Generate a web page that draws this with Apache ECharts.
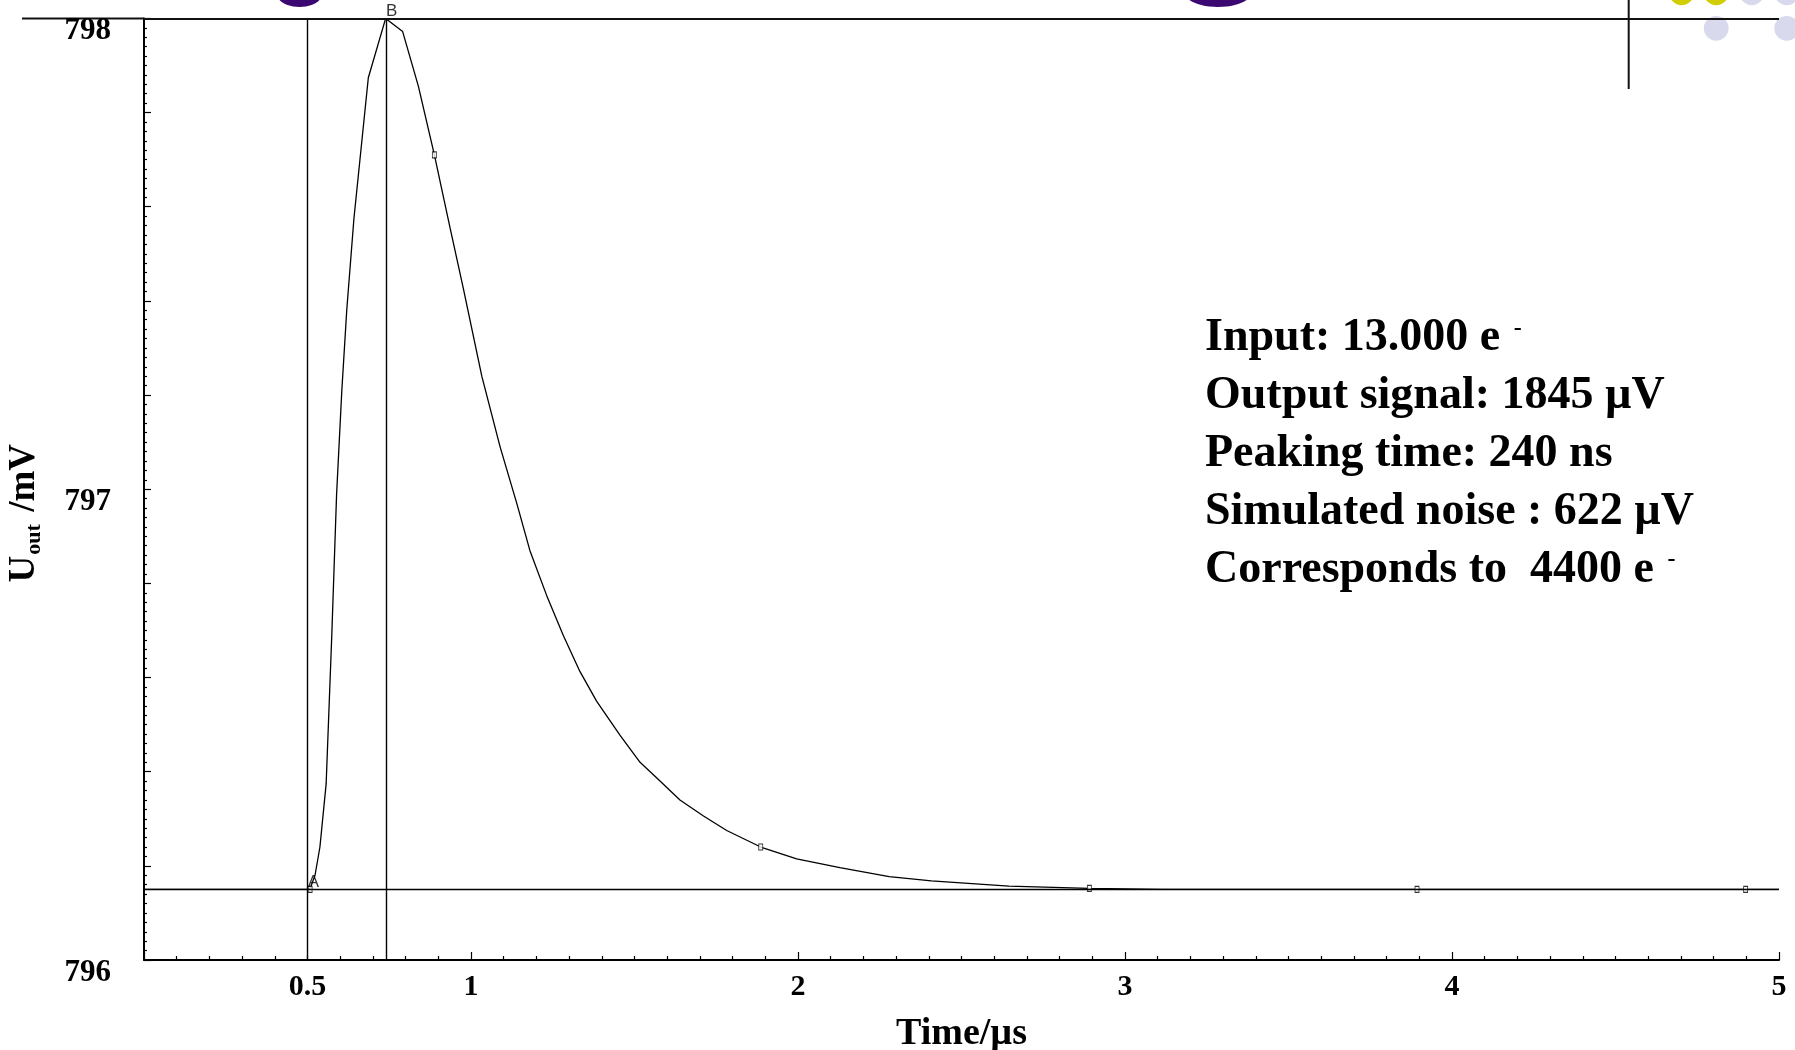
<!DOCTYPE html>
<html><head><meta charset="utf-8">
<script src="https://cdn.jsdelivr.net/npm/echarts@6/dist/echarts.min.js"></script>
<style>html,body{margin:0;padding:0;background:#fff}#c{width:1795px;height:1050px}</style>
</head><body><div id="c"></div>
<script>
// ---- data ----
const timeUs = [0, 0.25, 0.5, 0.508, 0.523, 0.538, 0.557, 0.574, 0.589, 0.605, 0.620, 0.642, 0.686, 0.739,
  0.791, 0.839, 0.888, 0.936, 0.977, 1.033, 1.089, 1.140, 1.180, 1.231, 1.282, 1.333, 1.384, 1.456, 1.517,
  1.578, 1.639, 1.711, 1.782, 1.886, 1.996, 2.128, 2.279, 2.408, 2.645, 2.891, 3.116, 3.48, 4.0, 4.5, 5.0];
const uOutMv = [796.15, 796.15, 796.15, 796.152, 796.18, 796.24, 796.374, 796.685, 796.99, 797.21, 797.38, 797.575, 797.874, 798.0,
  797.972, 797.856, 797.71, 797.555, 797.425, 797.24, 797.09, 796.97, 796.87, 796.775, 796.69, 796.613, 796.55, 796.477, 796.42,
  796.38, 796.34, 796.306, 796.275, 796.24, 796.215, 796.196, 796.177, 796.168, 796.157, 796.152, 796.15, 796.15, 796.15, 796.15, 796.15];
const markerTimes = [0.508, 0.888, 1.886, 2.891, 3.893, 4.898];
const markerValues = [796.15, 797.71, 796.24, 796.152, 796.15, 796.15];
const cursorNames = ['A', 'B'];
const cursorTimes = [0.5, 0.739];
const cursorValues = [796.15, 798.0];
const xTickLabels = ['0.5', '1', '2', '3', '4', '5'];
const yTickLabels = ['796', '797', '798'];
const infoLines = [
  ['Input: 13.000 e ', '-'],
  ['Output signal: 1845 µV', ''],
  ['Peaking time: 240 ns', ''],
  ['Simulated noise : 622 µV', ''],
  ['Corresponds to  4400 e ', '-']
];

// ---- chart ----
const chart = echarts.init(document.getElementById('c'));
const serif = 'Liberation Serif';
const fmtNum = v => String(+(+v).toFixed(3));

const curve = timeUs.map((t, i) => [t, uOutMv[i]]);
const markers = markerTimes.map((t, i) => [t, markerValues[i]]);
const cursorPts = cursorNames.map((n, i) => ({ name: n, value: [cursorTimes[i], cursorValues[i]] }));

const lineBlack = { color: '#000', width: 1.4, type: 'solid' };

const graphics = [
  { type: 'line', shape: { x1: 22, y1: 18.4, x2: 144, y2: 18.4 }, style: { stroke: '#111', lineWidth: 2 } },
  { type: 'line', shape: { x1: 1628.7, y1: 0, x2: 1628.7, y2: 89 }, style: { stroke: '#111', lineWidth: 2 } },
  { type: 'ellipse', shape: { cx: 299.5, cy: -5, rx: 22, ry: 12 }, style: { fill: '#3b0770' } },
  { type: 'ellipse', shape: { cx: 1218, cy: -7, rx: 33, ry: 14 }, style: { fill: '#3b0770' } },
  { type: 'circle', shape: { cx: 1681.6, cy: -7.2, r: 12.4 }, style: { fill: '#d2cd00' } },
  { type: 'circle', shape: { cx: 1716.2, cy: -7.2, r: 12.4 }, style: { fill: '#d2cd00' } },
  { type: 'circle', shape: { cx: 1751.8, cy: -7.2, r: 12.4 }, style: { fill: '#d8d9ec' } },
  { type: 'circle', shape: { cx: 1786.7, cy: -7.2, r: 12.4 }, style: { fill: '#d8d9ec' } },
  { type: 'circle', shape: { cx: 1716.2, cy: 28.3, r: 12.4 }, style: { fill: '#d8d9ec' } },
  { type: 'circle', shape: { cx: 1786.7, cy: 28.3, r: 12.4 }, style: { fill: '#d8d9ec' } }
];
const infoFont = 'bold 46px "Liberation Serif"';
const mctx = document.createElement('canvas').getContext('2d');
mctx.font = infoFont;
infoLines.forEach((ln, i) => {
  const cy = 338.5 + i * 57.8;
  graphics.push({
    type: 'text', x: 1205, y: cy,
    style: { text: ln[0], font: infoFont, fill: '#000', align: 'left', verticalAlign: 'middle' }
  });
  if (ln[1]) {
    graphics.push({
      type: 'text', x: 1205 + mctx.measureText(ln[0]).width + 2, y: cy - 10,
      style: { text: ln[1], font: 'bold 24px "Liberation Serif"', fill: '#000', align: 'left', verticalAlign: 'middle' }
    });
  }
});

chart.setOption({
  animation: false,
  backgroundColor: '#fff',
  grid: { left: 144, right: 16, top: 18.4, bottom: 90, containLabel: false, outerBoundsMode: 'none' },
  xAxis: [{
    type: 'value', min: 0, max: 5, interval: 1,
    name: 'Time/µs', nameLocation: 'middle', nameGap: 55,
    nameTextStyle: { fontFamily: serif, fontWeight: 'bold', fontSize: 38, color: '#000' },
    axisLine: { show: true, lineStyle: { color: '#000', width: 2 } },
    axisTick: { show: true, inside: true, length: 8, lineStyle: { color: '#000', width: 1.2 } },
    minorTick: { show: true, splitNumber: 10, length: 4, lineStyle: { color: '#000', width: 1.2 } },
    splitLine: { show: false },
    axisLabel: {
      margin: 12, fontFamily: serif, fontWeight: 'bold', fontSize: 30, color: '#000',
      formatter: v => (xTickLabels.includes(fmtNum(v)) ? fmtNum(v) : '')
    }
  }, {
    type: 'value', min: 0, max: 5, interval: 0.5, position: 'bottom', offset: 0,
    axisLine: { show: false }, axisTick: { show: false }, splitLine: { show: false },
    axisLabel: {
      margin: 12, fontFamily: serif, fontWeight: 'bold', fontSize: 30, color: '#000',
      formatter: v => (fmtNum(v) === '0.5' && xTickLabels.includes('0.5') ? '0.5' : '')
    }
  }],
  yAxis: {
    type: 'value', min: 796, max: 798, interval: 0.2,
    name: '{u|U}{s|out}{n| /mV}', nameLocation: 'middle', nameGap: 100,
    nameTextStyle: {
      padding: [0, 48, 0, 0],
      rich: {
        u: { fontFamily: serif, fontWeight: 'bold', fontSize: 37, lineHeight: 40, color: '#000' },
        s: { fontFamily: serif, fontWeight: 'bold', fontSize: 22, lineHeight: 22, padding: [20, 3, 0, 1], color: '#000' },
        n: { fontFamily: serif, fontWeight: 'bold', fontSize: 37, lineHeight: 40, color: '#000' }
      }
    },
    axisLine: { show: true, lineStyle: { color: '#000', width: 2 } },
    axisTick: { show: true, inside: true, length: 7, lineStyle: { color: '#000', width: 1.2 } },
    minorTick: { show: true, splitNumber: 10, length: 3, lineStyle: { color: '#000', width: 1.2 } },
    splitLine: { show: false },
    axisLabel: {
      margin: 33, fontFamily: serif, fontWeight: 'bold', fontSize: 31, color: '#000',
      verticalAlign: 'top', lineHeight: 26,
      formatter: v => {
        const r = Math.round(v);
        return (Math.abs(v - r) < 1e-6 && yTickLabels.includes(String(r))) ? String(r) : '';
      }
    }
  },
  series: [{
    type: 'line', data: curve, showSymbol: false, symbol: 'none', smooth: false,
    lineStyle: { color: '#000', width: 1.3 }, clip: false, z: 3,
    markLine: {
      silent: true, symbol: 'none', label: { show: false }, lineStyle: lineBlack,
      data: [
        { xAxis: cursorTimes[0] },
        { xAxis: cursorTimes[1] },
        { yAxis: cursorValues[0] },
        { yAxis: cursorValues[1], lineStyle: { color: '#111', width: 2, type: 'solid' } }
      ]
    }
  }, {
    type: 'scatter', data: markers, symbol: 'rect', symbolSize: [4, 6], z: 4,
    itemStyle: { color: '#fff', borderColor: '#000', borderWidth: 1 }
  }, {
    type: 'scatter', data: cursorPts, symbol: 'circle', symbolSize: 1, z: 5,
    itemStyle: { color: 'rgba(0,0,0,0)' },
    label: {
      show: true, position: 'top', distance: 0, formatter: p => p.name,
      fontFamily: 'Liberation Sans', fontSize: 17, color: '#000', offset: [6, 2]
    }
  }],
  graphic: graphics
});
</script></body></html>
